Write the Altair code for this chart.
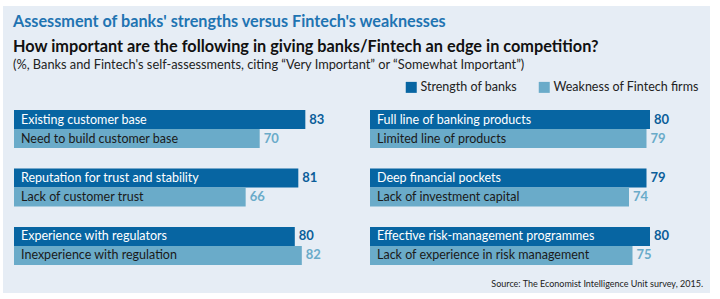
import altair as alt
import pandas as pd

# Survey results: banks' strengths vs. Fintech's matching weaknesses
series = ["Strength of banks", "Weakness of Fintech firms"]

left_strength_labels = ["Existing customer base", "Reputation for trust and stability", "Experience with regulators"]
left_strength_values = [83, 81, 80]
left_weakness_labels = ["Need to build customer base", "Lack of customer trust", "Inexperience with regulation"]
left_weakness_values = [70, 66, 82]

right_strength_labels = ["Full line of banking products", "Deep financial pockets", "Effective risk-management programmes"]
right_strength_values = [80, 79, 80]
right_weakness_labels = ["Limited line of products", "Lack of investment capital", "Lack of experience in risk management"]
right_weakness_values = [79, 74, 75]

title_text = "Assessment of banks' strengths versus Fintech's weaknesses"
subtitle_text = "How important are the following in giving banks/Fintech an edge in competition?"
note_text = "(%, Banks and Fintech's self-assessments, citing \u201cVery Important\u201d or \u201cSomewhat Important\u201d)"
source_text = "Source: The Economist Intelligence Unit survey, 2015."

FONT = "Lato"
DARK = "#0765a2"
LIGHT = "#6aabc9"
PANEL = "#e6edf5"


def side_frame(s_labels, s_values, w_labels, w_values):
    rows = []
    for i in range(len(s_labels)):
        rows.append({"row": i, "series": series[0], "label": s_labels[i], "value": s_values[i]})
        rows.append({"row": i, "series": series[1], "label": w_labels[i], "value": w_values[i]})
    return pd.DataFrame(rows)


left_df = side_frame(left_strength_labels, left_strength_values, left_weakness_labels, left_weakness_values)
right_df = side_frame(right_strength_labels, right_strength_values, right_weakness_labels, right_weakness_values)

y_enc = alt.Y("row:O", scale=alt.Scale(domain=[0, 1, 2], range=[110, 265], paddingInner=0.35, paddingOuter=0), axis=None)
yoff_enc = alt.YOffset("series:N", scale=alt.Scale(domain=series, paddingInner=0, paddingOuter=0))
color_scale = alt.Scale(domain=series, range=[DARK, LIGHT])


def panel_layers(df, x_range, show_legend):
    xs = alt.Scale(domain=[0, 100], range=x_range)
    if show_legend:
        legend = alt.Legend(
            orient="none", legendX=405, legendY=81, direction="horizontal", title=None,
            symbolType="square", symbolSize=121, symbolStrokeWidth=0, symbolOffset=0,
            labelFont=FONT, labelFontSize=12.5, labelColor="#222222", labelOffset=3,
            columnPadding=21, padding=0,
        )
        color = alt.Color("series:N", scale=color_scale, legend=legend)
    else:
        color = alt.Color("series:N", scale=color_scale, legend=None)
    bars = alt.Chart(df).mark_bar(cornerRadius=0).encode(
        x=alt.X("value:Q", scale=xs, axis=None),
        x2=alt.datum(0),
        y=y_enc, yOffset=yoff_enc, color=color,
    )
    names = alt.Chart(df).mark_text(align="left", baseline="middle", dx=7, font=FONT, fontSize=12.5).encode(
        x=alt.X("zero:Q", scale=xs, axis=None),
        y=y_enc, yOffset=yoff_enc, text="label:N",
        color=alt.condition(alt.datum.series == series[0], alt.value("white"), alt.value("#1a1a1a")),
    ).transform_calculate(zero="0")
    values = alt.Chart(df).mark_text(align="left", baseline="middle", dx=4, font=FONT, fontSize=13, fontWeight="bold").encode(
        x=alt.X("value:Q", scale=xs, axis=None),
        y=y_enc, yOffset=yoff_enc, text="value:Q",
        color=alt.condition(alt.datum.series == series[0], alt.value("#0b5e99"), alt.value(LIGHT)),
    )
    return [bars, names, values]


def label(text, x, y, size, weight="normal", color="#111111", align="left"):
    return alt.Chart(pd.DataFrame({"t": [text]})).mark_text(
        align=align, baseline="alphabetic", font=FONT, fontSize=size, fontWeight=weight, color=color
    ).encode(x=alt.value(x), y=alt.value(y), text="t:N")


panel = alt.Chart(pd.DataFrame({"a": [0]})).mark_rect(color=PANEL).encode(
    x=alt.value(3), x2=alt.value(710), y=alt.value(6), y2=alt.value(293)
)

layers = [panel,
          label(title_text, 13, 27, 16.2, "bold", "#1f74b2"),
          label(subtitle_text, 13, 52, 16.3, "bold", "#111111"),
          label(note_text, 13, 68.5, 12.8, "normal", "#222222"),
          label(source_text, 703, 287, 9, "normal", "#222222", "right")]
layers += panel_layers(left_df, [14, 365], True)
layers += panel_layers(right_df, [370, 720], False)

chart = alt.layer(*layers).resolve_scale(x="independent").properties(
    width=720, height=299, padding=0, autosize=alt.AutoSizeParams(type="none")
).configure(background="white").configure_view(stroke=None)

chart.save("out.html", embed_options={"renderer": "svg", "actions": False})
